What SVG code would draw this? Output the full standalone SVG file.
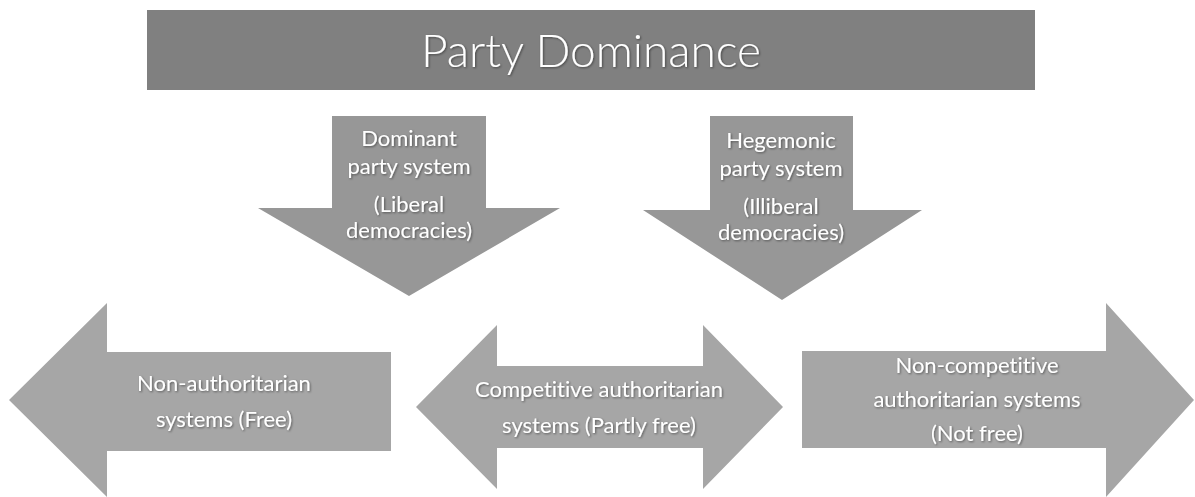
<svg xmlns="http://www.w3.org/2000/svg" width="1195" height="497" viewBox="0 0 1195 497">
<defs>
<filter id="sh" x="-10%" y="-30%" width="120%" height="160%">
<feDropShadow dx="1" dy="1" stdDeviation="0.8" flood-color="#000" flood-opacity="0.45"/>
</filter>
</defs>
<style>
text{font-family:Lato,"Open Sans",sans-serif;fill:#fff;text-anchor:middle;filter:url(#sh);font-variant-ligatures:none}
.t{font-size:46px;font-weight:300}
.s{font-size:22px}
.down{fill:#979797}
.side{fill:#a6a6a6}
</style>
<rect width="1195" height="497" fill="#fff"/>
<g id="title">
<rect x="147" y="10" width="888" height="80" fill="#808080"/>
<text class="t" x="591" y="67">Party Dominance</text>
</g>
<g id="dominant">
<polygon class="down" points="332,116 486,116 486,208 560,208 409,296 258,208 332,208"/>
<text class="s" x="409" y="146">Dominant</text>
<text class="s" x="409" y="174">party system</text>
<text class="s" x="409" y="212">(Liberal</text>
<text class="s" x="409" y="238">democracies)</text>
</g>
<g id="hegemonic">
<polygon class="down" points="710,116 853,116 853,210 922,210 782,300 643,210 710,210"/>
<text class="s" x="781" y="148">Hegemonic</text>
<text class="s" x="781" y="176">party system</text>
<text class="s" x="781" y="214">(Illiberal</text>
<text class="s" x="781" y="240">democracies)</text>
</g>
<g id="free">
<polygon class="side" points="9,400 107,303 107,352 391,352 391,451 107,451 107,497"/>
<text class="s" x="224" y="391">Non-authoritarian</text>
<text class="s" x="224" y="427">systems (Free)</text>
</g>
<g id="partly">
<polygon class="side" points="416,407 497,325 497,366 703,366 703,325 783,407 703,489 703,448 497,448 497,489"/>
<text class="s" x="599" y="397">Competitive authoritarian</text>
<text class="s" x="599" y="433">systems (Partly free)</text>
</g>
<g id="notfree">
<polygon class="side" points="802,351 1106,351 1106,303 1194,400 1106,497 1106,448 802,448"/>
<text class="s" x="977" y="373">Non-competitive</text>
<text class="s" x="977" y="407">authoritarian systems</text>
<text class="s" x="977" y="441">(Not free)</text>
</g>
<g id="connectors"/>
</svg>
